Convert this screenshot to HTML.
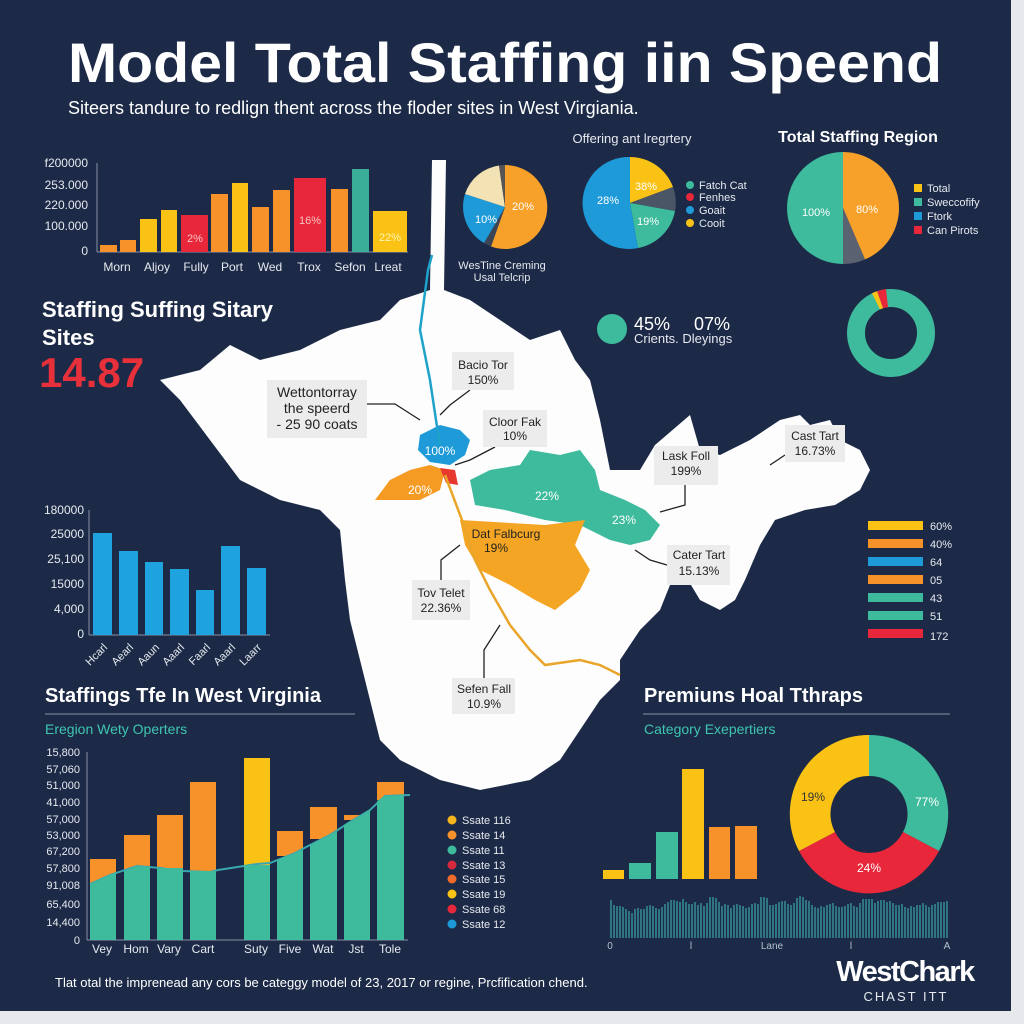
<!DOCTYPE html>
<html><head><meta charset="utf-8"><style>
html,body{margin:0;padding:0;background:#e9ebee;}
svg{display:block;font-family:"Liberation Sans",sans-serif;}
</style></head><body>
<svg width="1024" height="1024" viewBox="0 0 1024 1024" xmlns="http://www.w3.org/2000/svg">
<rect x="0" y="0" width="1024" height="1024" fill="#e6e8eb"/>
<rect x="0" y="0" width="1011" height="1011" fill="#1c2a47"/>

<!-- Title -->
<text x="68" y="82" fill="#fff" font-size="56" font-weight="bold" textLength="874" lengthAdjust="spacingAndGlyphs">Model Total Staffing iin Speend</text>
<text x="68" y="114" fill="#fff" font-size="18">Siteers tandure to redlign thent across the floder sites in West Virgiania.</text>

<!-- MAP -->
<path d="M430,290 L432,160 L446,160 L444,290 L470,300 L500,320 L530,340 L560,330 L575,360 L590,380 L600,420 L610,470 L640,470 L655,445 L690,415 L700,450 L720,455 L750,440 L780,420 L800,415 L810,425 L830,420 L840,440 L860,450 L870,470 L860,490 L835,505 L805,510 L775,520 L760,545 L745,580 L735,600 L720,610 L700,600 L685,575 L670,585 L660,610 L640,630 L620,660 L620,680 L600,700 L580,730 L560,760 L530,780 L480,790 L440,780 L400,760 L380,740 L370,700 L360,660 L350,620 L345,580 L340,530 L320,510 L280,500 L240,480 L210,440 L180,400 L160,380 L200,370 L230,345 L260,360 L300,350 L340,330 L380,320 L400,300 Z" fill="#fdfdfd"/>
<path d="M470,480 L490,470 L520,465 L530,450 L560,455 L580,450 L595,470 L600,490 L625,500 L645,510 L660,525 L650,540 L630,545 L610,540 L590,530 L580,525 L545,520 L505,510 L475,505 Z" fill="#3dbb9c"/>
<path d="M460,520 L545,525 L585,520 L575,545 L590,570 L580,590 L555,610 L535,600 L510,585 L480,570 L465,545 Z" fill="#f5a524"/>
<path d="M420,435 L440,425 L460,430 L470,440 L465,455 L450,465 L430,462 L418,450 Z" fill="#1e9ad8"/>
<path d="M375,500 L390,480 L410,470 L430,465 L445,470 L440,490 L420,500 L395,500 Z" fill="#f59b23"/>
<path d="M440,468 L455,470 L458,485 L446,483 Z" fill="#e8392e"/>
<polyline points="432,255 428,270 420,330 430,380 436,420 440,445" fill="none" stroke="#1ea2c9" stroke-width="2.5"/>
<polyline points="445,475 462,520 475,560 490,590 510,625 530,650 545,665 580,660 600,665 620,675" fill="none" stroke="#e9a52a" stroke-width="2.5"/>
<text x="440" y="455" fill="#fff" font-size="12" text-anchor="middle">100%</text>
<text x="420" y="494" fill="#fff" font-size="12" text-anchor="middle">20%</text>
<text x="547" y="500" fill="#fff" font-size="12" text-anchor="middle">22%</text>
<text x="624" y="524" fill="#fff" font-size="12" text-anchor="middle">23%</text>
<text x="506" y="538" fill="#222" font-size="12" text-anchor="middle">Dat Falbcurg</text>
<text x="496" y="552" fill="#222" font-size="12" text-anchor="middle">19%</text>

<g stroke="#222" stroke-width="1.3" fill="none">
<polyline points="367,404 395,404 420,420"/>
<polyline points="470,390 450,405 440,415"/>
<polyline points="495,447 470,460 455,465"/>
<polyline points="685,485 685,505 660,512"/>
<polyline points="785,455 770,465"/>
<polyline points="667,565 650,560 635,550"/>
<polyline points="441,580 441,560 460,545"/>
<polyline points="484,678 484,650 500,625"/>
</g>
<g font-size="12" fill="#222" text-anchor="middle">
<rect x="267" y="380" width="100" height="58" fill="#ececec"/>
<text x="317" y="397" font-size="14">Wettontorray</text><text x="317" y="413" font-size="14">the speerd</text><text x="317" y="429" font-size="14">- 25 90 coats</text>
<rect x="452" y="352" width="62" height="38" fill="#ececec"/><text x="483" y="369">Bacio Tor</text><text x="483" y="384">150%</text>
<rect x="483" y="410" width="64" height="37" fill="#ececec"/><text x="515" y="426">Cloor Fak</text><text x="515" y="440">10%</text>
<rect x="654" y="446" width="64" height="39" fill="#ececec"/><text x="686" y="460">Lask Foll</text><text x="686" y="475">199%</text>
<rect x="785" y="425" width="60" height="37" fill="#ececec"/><text x="815" y="440">Cast Tart</text><text x="815" y="455">16.73%</text>
<rect x="667" y="545" width="63" height="40" fill="#ececec"/><text x="699" y="559">Cater Tart</text><text x="699" y="575">15.13%</text>
<rect x="412" y="580" width="58" height="40" fill="#ececec"/><text x="441" y="597">Tov Telet</text><text x="441" y="612">22.36%</text>
<rect x="452" y="678" width="63" height="36" fill="#ececec"/><text x="484" y="693">Sefen Fall</text><text x="484" y="708">10.9%</text>
</g>

<!-- Top-left bar chart -->
<g font-size="12" fill="#e6e9ef" text-anchor="end">
<text x="88" y="167">f200000</text><text x="88" y="189">253.000</text><text x="88" y="209">220.000</text><text x="88" y="230">100.000</text><text x="88" y="255">0</text>
</g>
<line x1="97" y1="163" x2="97" y2="252" stroke="#8a93a6"/>
<line x1="97" y1="252" x2="408" y2="252" stroke="#8a93a6"/>
<g>
<rect x="100" y="245" width="17" height="7" fill="#f7922a"/>
<rect x="120" y="240" width="16" height="12" fill="#f7922a"/>
<rect x="140" y="219" width="17" height="33" fill="#f9c215"/>
<rect x="161" y="210" width="16" height="42" fill="#f9c215"/>
<rect x="181" y="215" width="27" height="37" fill="#e8273a"/>
<rect x="211" y="194" width="17" height="58" fill="#f7922a"/>
<rect x="232" y="183" width="16" height="69" fill="#f9c215"/>
<rect x="252" y="207" width="17" height="45" fill="#f7922a"/>
<rect x="273" y="190" width="17" height="62" fill="#f7922a"/>
<rect x="294" y="178" width="32" height="74" fill="#e8273a"/>
<rect x="331" y="189" width="17" height="63" fill="#f7922a"/>
<rect x="352" y="169" width="17" height="83" fill="#3aae98"/>
<rect x="373" y="211" width="34" height="41" fill="#f9c215"/>
</g>
<g font-size="11" fill="#f6c4c4" text-anchor="middle"><text x="195" y="242">2%</text><text x="310" y="224">16%</text><text x="390" y="241" fill="#fff6b0">22%</text></g>
<g font-size="12" fill="#e6e9ef" text-anchor="middle">
<text x="117" y="271">Morn</text><text x="157" y="271">Aljoy</text><text x="196" y="271">Fully</text><text x="232" y="271">Port</text><text x="270" y="271">Wed</text><text x="309" y="271">Trox</text><text x="350" y="271">Sefon</text><text x="388" y="271">Lreat</text>
</g>

<text x="42" y="317" fill="#fff" font-size="22" font-weight="bold">Staffing Suffing Sitary</text>
<text x="42" y="345" fill="#fff" font-size="22" font-weight="bold">Sites</text>
<text x="39" y="387" fill="#e8303a" font-size="42" font-weight="bold">14.87</text>

<!-- Blue bars -->
<g font-size="12" fill="#e6e9ef" text-anchor="end">
<text x="84" y="514">180000</text><text x="84" y="538">25000</text><text x="84" y="563">25,100</text><text x="84" y="588">15000</text><text x="84" y="613">4,000</text><text x="84" y="638">0</text>
</g>
<line x1="89" y1="510" x2="89" y2="635" stroke="#8a93a6"/>
<line x1="89" y1="635" x2="270" y2="635" stroke="#8a93a6"/>
<g fill="#1ea3df">
<rect x="93" y="533" width="19" height="102"/><rect x="119" y="551" width="19" height="84"/><rect x="145" y="562" width="18" height="73"/><rect x="170" y="569" width="19" height="66"/><rect x="196" y="590" width="18" height="45"/><rect x="221" y="546" width="19" height="89"/><rect x="247" y="568" width="19" height="67"/>
</g>
<g font-size="11" fill="#e6e9ef" text-anchor="end">
<text transform="translate(108,648) rotate(-45)">Hcarl</text><text transform="translate(134,648) rotate(-45)">Aearl</text><text transform="translate(160,648) rotate(-45)">Aaun</text><text transform="translate(185,648) rotate(-45)">Aaarl</text><text transform="translate(211,648) rotate(-45)">Faarl</text><text transform="translate(236,648) rotate(-45)">Aaarl</text><text transform="translate(262,648) rotate(-45)">Laarr</text>
</g>

<!-- Bottom-left section -->
<text x="45" y="702" fill="#fff" font-size="20" font-weight="bold">Staffings Tfe In West Virginia</text>
<line x1="45" y1="714" x2="355" y2="714" stroke="#8a93a6"/>
<text x="45" y="734" fill="#3ec6b0" font-size="14">Eregion Wety Operters</text>
<g font-size="11" fill="#e6e9ef" text-anchor="end">
<text x="80" y="756">15,800</text><text x="80" y="773">57,060</text><text x="80" y="789">51,000</text><text x="80" y="806">41,000</text><text x="80" y="823">57,000</text><text x="80" y="839">53,000</text><text x="80" y="855">67,200</text><text x="80" y="872">57,800</text><text x="80" y="889">91,008</text><text x="80" y="908">65,400</text><text x="80" y="926">14,400</text><text x="80" y="944">0</text>
</g>
<line x1="87" y1="752" x2="87" y2="940" stroke="#8a93a6"/>
<line x1="87" y1="940" x2="408" y2="940" stroke="#8a93a6"/>
<g fill="#f7922a">
<rect x="90" y="859" width="26" height="30"/><rect x="124" y="835" width="26" height="35"/><rect x="157" y="815" width="26" height="57"/><rect x="190" y="782" width="26" height="92"/><rect x="244" y="758" width="26" height="110" fill="#f9c215"/><rect x="277" y="831" width="26" height="25"/><rect x="310" y="807" width="27" height="32"/><rect x="344" y="815" width="26" height="5"/><rect x="377" y="782" width="27" height="18"/>
</g>
<path d="M90,884 L110,875 L137,866 L160,868 L183,871 L210,872 L218,870 L257,864 L270,863 L295,853 L310,845 L330,835 L350,822 L370,810 L385,796 L410,795" fill="none" stroke="#3aa7b0" stroke-width="2"/>
<g fill="#3dbb9c">
<path d="M90,884 L110,875 L116,873 L116,940 L90,940Z"/>
<path d="M124,871 L137,866 L150,867 L150,940 L124,940Z"/>
<rect x="157" y="868" width="26" height="72"/>
<rect x="190" y="871" width="26" height="69"/>
<rect x="244" y="865" width="26" height="75"/>
<path d="M277,860 L295,853 L303,849 L303,940 L277,940Z"/>
<path d="M310,845 L330,835 L337,831 L337,940 L310,940Z"/>
<path d="M344,825 L350,822 L370,810 L370,940 L344,940Z"/>
<path d="M377,801 L385,796 L404,795 L404,940 L377,940Z"/>
</g>
<g font-size="12" fill="#e6e9ef" text-anchor="middle">
<text x="102" y="953">Vey</text><text x="136" y="953">Hom</text><text x="169" y="953">Vary</text><text x="203" y="953">Cart</text><text x="256" y="953">Suty</text><text x="290" y="953">Five</text><text x="323" y="953">Wat</text><text x="356" y="953">Jst</text><text x="390" y="953">Tole</text>
</g>
<g font-size="11" fill="#e6e9ef">
<circle cx="452" cy="820" r="4.5" fill="#f5b51e"/><text x="462" y="824">Ssate 116</text>
<circle cx="452" cy="835" r="4.5" fill="#f7922a"/><text x="462" y="839">Ssate 14</text>
<circle cx="452" cy="850" r="4.5" fill="#3dbb9c"/><text x="462" y="854">Ssate 11</text>
<circle cx="452" cy="865" r="4.5" fill="#d8283e"/><text x="462" y="869">Ssate 13</text>
<circle cx="452" cy="879" r="4.5" fill="#f26b2a"/><text x="462" y="883">Ssate 15</text>
<circle cx="452" cy="894" r="4.5" fill="#f9c215"/><text x="462" y="898">Ssate 19</text>
<circle cx="452" cy="909" r="4.5" fill="#e8273a"/><text x="462" y="913">Ssate 68</text>
<circle cx="452" cy="924" r="4.5" fill="#1e9ad8"/><text x="462" y="928">Ssate 12</text>
</g>
<text x="55" y="987" fill="#fff" font-size="13">Tlat otal the imprenead any cors be categgy model of 23, 2017 or regine, Prcfification chend.</text>

<!-- Top middle pies -->
<g transform="translate(505,207)">
<path d="M0,0 L0,-42 A42,42 0 1,1 -14,39.5 Z" fill="#f7a02a"/>
<path d="M0,0 L-14,39.5 A42,42 0 0,1 -21,36 Z" fill="#3c4556"/>
<path d="M0,0 L-21,36 A42,42 0 0,1 -40,-13 Z" fill="#1e9ad8"/>
<path d="M0,0 L-40,-13 A42,42 0 0,1 -6,-41.5 Z" fill="#f3e2b3"/>
<path d="M0,0 L-6,-41.5 A42,42 0 0,1 0,-42 Z" fill="#555"/>
<text x="18" y="3" fill="#fff" font-size="11" text-anchor="middle">20%</text>
<text x="-19" y="16" fill="#fff" font-size="11" text-anchor="middle">10%</text>
</g>
<text x="502" y="269" fill="#e6e9ef" font-size="11" text-anchor="middle">WesTine Creming</text>
<text x="502" y="281" fill="#e6e9ef" font-size="11" text-anchor="middle">Usal Telcrip</text>

<text x="632" y="143" fill="#e6e9ef" font-size="13" text-anchor="middle">Offering ant lregrtery</text>
<g transform="translate(630,203)">
<path d="M0,0 L0,-46 A46,46 0 0,1 43,-16 Z" fill="#f9c215"/>
<path d="M0,0 L43,-16 A46,46 0 0,1 45,8 Z" fill="#4a5566"/>
<path d="M0,0 L45,8 A46,46 0 0,1 8,45 Z" fill="#3dbb9c"/>
<path d="M0,0 L8,45 A46,46 0 1,1 0,-46 Z" fill="#1e9ad8"/>
<text x="16" y="-13" fill="#fff" font-size="11" text-anchor="middle">38%</text>
<text x="-22" y="1" fill="#fff" font-size="11" text-anchor="middle">28%</text>
<text x="18" y="22" fill="#fff" font-size="11" text-anchor="middle">19%</text>
</g>
<g font-size="11" fill="#e6e9ef">
<circle cx="690" cy="185" r="4" fill="#3dbb9c"/><text x="699" y="189">Fatch Cat</text>
<circle cx="690" cy="197" r="4" fill="#e8273a"/><text x="699" y="201">Fenhes</text>
<circle cx="690" cy="210" r="4" fill="#1e9ad8"/><text x="699" y="214">Goait</text>
<circle cx="690" cy="223" r="4" fill="#f9c215"/><text x="699" y="227">Cooit</text>
</g>

<text x="858" y="142" fill="#fff" font-size="16" font-weight="bold" text-anchor="middle">Total Staffing Region</text>
<g transform="translate(843,208)">
<path d="M0,0 L0,-56 A56,56 0 0,1 22,51.5 Z" fill="#f7a02a"/>
<path d="M0,0 L22,51.5 A56,56 0 0,1 0,56 Z" fill="#5a6272"/>
<path d="M0,0 L0,56 A56,56 0 0,1 0,-56 Z" fill="#3dbb9c"/>
<text x="-27" y="8" fill="#fff" font-size="11" text-anchor="middle">100%</text>
<text x="24" y="5" fill="#fff" font-size="11" text-anchor="middle">80%</text>
</g>
<g font-size="11" fill="#e6e9ef">
<rect x="914" y="184" width="8" height="8" fill="#f9c215"/><text x="927" y="192">Total</text>
<rect x="914" y="198" width="8" height="8" fill="#3dbb9c"/><text x="927" y="206">Sweccofify</text>
<rect x="914" y="212" width="8" height="8" fill="#1e9ad8"/><text x="927" y="220">Ftork</text>
<rect x="914" y="226" width="8" height="8" fill="#e8273a"/><text x="927" y="234">Can Pirots</text>
</g>

<circle cx="612" cy="329" r="15" fill="#3dbb9c"/>
<text x="634" y="330" fill="#fff" font-size="18">45%</text>
<text x="694" y="330" fill="#fff" font-size="18">07%</text>
<text x="634" y="343" fill="#e6e9ef" font-size="13">Crients. Dleyings</text>

<g transform="translate(891,333)">
<circle r="35" fill="none" stroke="#3dbb9c" stroke-width="18"/>
<path d="M-5,-44 A44,44 0 0,0 -14,-41.7 L-8,-24.7 A26,26 0 0,1 -3,-25.8Z" fill="#e8273a"/>
<path d="M-14,-41.7 A44,44 0 0,0 -19,-39.7 L-11,-23.5 A26,26 0 0,1 -8,-24.7Z" fill="#f9c215"/>
</g>

<g font-size="11" fill="#e6e9ef">
<rect x="868" y="521" width="55" height="9" fill="#f9c215"/><text x="930" y="530">60%</text>
<rect x="868" y="539" width="55" height="9" fill="#f7922a"/><text x="930" y="548">40%</text>
<rect x="868" y="557" width="55" height="9" fill="#1e9ad8"/><text x="930" y="566">64</text>
<rect x="868" y="575" width="55" height="9" fill="#f7922a"/><text x="930" y="584">05</text>
<rect x="868" y="593" width="55" height="9" fill="#3dbb9c"/><text x="930" y="602">43</text>
<rect x="868" y="611" width="55" height="9" fill="#3dbb9c"/><text x="930" y="620">51</text>
<rect x="868" y="629" width="55" height="9" fill="#e8273a"/><text x="930" y="640">172</text>
</g>

<!-- Bottom right -->
<text x="644" y="702" fill="#fff" font-size="20" font-weight="bold">Premiuns Hoal Tthraps</text>
<line x1="643" y1="714" x2="950" y2="714" stroke="#8a93a6"/>
<text x="644" y="734" fill="#3ec6b0" font-size="14">Category Exepertiers</text>
<rect x="603" y="870" width="21" height="9" fill="#f9c215"/>
<rect x="629" y="863" width="22" height="16" fill="#3dbb9c"/>
<rect x="656" y="832" width="22" height="47" fill="#3dbb9c"/>
<rect x="682" y="769" width="22" height="110" fill="#f9c215"/>
<rect x="709" y="827" width="21" height="52" fill="#f7922a"/>
<rect x="735" y="826" width="22" height="53" fill="#f7922a"/>

<g transform="translate(869,814)">
<path d="M0,-79 A79,79 0 0,1 70,37 L34,18 A38,38 0 0,0 0,-38Z" fill="#3dbb9c"/>
<path d="M70,37 A79,79 0 0,1 -70,37 L-34,18 A38,38 0 0,0 34,18Z" fill="#e8273a"/>
<path d="M-70,37 A79,79 0 0,1 0,-79 L0,-38 A38,38 0 0,0 -34,18Z" fill="#f9c215"/>
<text x="58" y="-8" fill="#fff" font-size="12" text-anchor="middle">77%</text>
<text x="0" y="58" fill="#fff" font-size="12" text-anchor="middle">24%</text>
<text x="-56" y="-13" fill="#333" font-size="12" text-anchor="middle">19%</text>
</g>

<g stroke="#3aa7a8" stroke-width="1.2">
<path d="M611,938V900M614,938V905M617,938V906M620,938V906M623,938V907M626,938V909M629,938V911M632,938V913M635,938V909M638,938V908M641,938V909M644,938V909M647,938V906M650,938V905M653,938V906M656,938V908M659,938V909M662,938V907M665,938V904M668,938V902M671,938V900M674,938V900M677,938V901M680,938V902M683,938V899M686,938V902M689,938V904M692,938V904M695,938V902M698,938V905M701,938V903M704,938V906M707,938V903M710,938V897M713,938V897M716,938V898M719,938V902M722,938V906M725,938V904M728,938V905M731,938V908M734,938V905M737,938V904M740,938V905M743,938V906M746,938V908M749,938V907M752,938V904M755,938V903M758,938V904M761,938V897M764,938V897M767,938V898M770,938V905M773,938V905M776,938V904M779,938V902M782,938V901M785,938V901M788,938V904M791,938V905M794,938V903M797,938V898M800,938V896M803,938V897M806,938V900M809,938V901M812,938V905M815,938V907M818,938V908M821,938V906M824,938V907M827,938V905M830,938V904M833,938V903M836,938V906M839,938V907M842,938V907M845,938V906M848,938V904M851,938V903M854,938V906M857,938V907M860,938V903M863,938V899M866,938V899M869,938V899M872,938V899M875,938V903M878,938V901M881,938V900M884,938V900M887,938V902M890,938V901M893,938V903M896,938V905M899,938V905M902,938V904M905,938V907M908,938V908M911,938V906M914,938V907M917,938V905M920,938V905M923,938V903M926,938V905M929,938V907M932,938V905M935,938V904M938,938V902M941,938V902M944,938V902M947,938V901"/>
</g>
<g font-size="10" fill="#b8c0cc" text-anchor="middle">
<text x="610" y="949">0</text><text x="691" y="949">l</text><text x="772" y="949">Lane</text><text x="851" y="949">l</text><text x="947" y="949">A</text>
</g>
<text x="905" y="981" fill="#fff" font-size="29" font-weight="bold" text-anchor="middle" letter-spacing="-1.5">WestChark</text>
<text x="906" y="1001" fill="#e6e9ef" font-size="13" text-anchor="middle" letter-spacing="2">CHAST ITT</text>
</svg>
</body></html>
